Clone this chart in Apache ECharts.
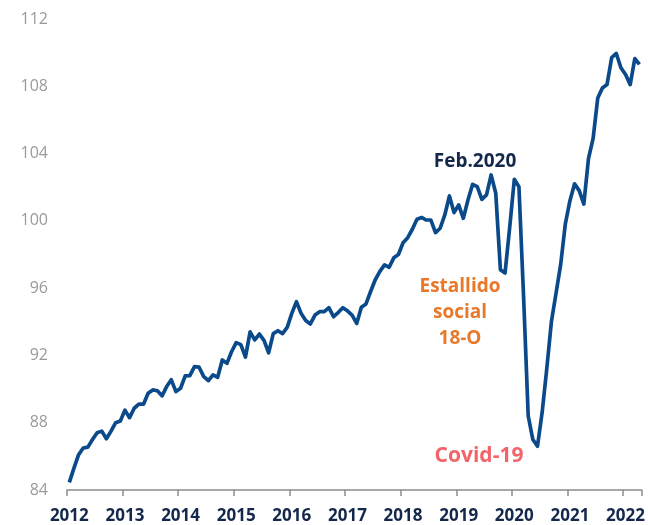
<!DOCTYPE html>
<html>
<head>
<meta charset="utf-8">
<script src="https://cdn.jsdelivr.net/npm/echarts@6/dist/echarts.min.js"></script>
<style>
  html, body { margin: 0; padding: 0; background: #fff; }
  #chart { width: 648px; height: 525px; }
</style>
</head>
<body>
<div id="chart"></div>
<script>
// months Jan 2012 .. Apr 2022
const months = [];
for (let y = 2012; y <= 2022; y++) {
  for (let m = 1; m <= 12; m++) {
    if (y === 2022 && m > 4) break;
    months.push(y + '-' + String(m).padStart(2, '0'));
  }
}

// index values
const v2012 = [84.45, 85.3, 86.1, 86.5, 86.55, 87.0, 87.4, 87.5, 87.05, 87.5, 88.0, 88.1];
const v2013 = [88.75, 88.3, 88.86, 89.1, 89.1, 89.75, 89.95, 89.9, 89.6, 90.15, 90.55, 89.85];
const v2014 = [90.05, 90.78, 90.8, 91.33, 91.3, 90.74, 90.5, 90.84, 90.7, 91.73, 91.53, 92.22];
const v2015 = [92.76, 92.64, 91.9, 93.4, 92.92, 93.27, 92.9, 92.16, 93.3, 93.47, 93.3, 93.67];
const v2016 = [94.5, 95.2, 94.5, 94.07, 93.87, 94.4, 94.6, 94.6, 94.84, 94.3, 94.55, 94.84];
const v2017 = [94.65, 94.4, 93.9, 94.86, 95.06, 95.8, 96.5, 97.0, 97.38, 97.24, 97.8, 98.0];
const v2018 = [98.7, 99.0, 99.5, 100.1, 100.2, 100.05, 100.05, 99.3, 99.56, 100.35, 101.48, 100.49];
const v2019 = [100.95, 100.15, 101.24, 102.17, 102.03, 101.28, 101.54, 102.73, 101.64, 97.1, 96.9, 99.6];
const v2020 = [102.47, 102.03, 95.5, 88.4, 87.0, 86.6, 88.6, 91.2, 94.0, 95.7, 97.4, 99.8];
const v2021 = [101.2, 102.2, 101.8, 101.0, 103.7, 104.9, 107.3, 107.9, 108.1, 109.7, 109.95, 109.1];
const v2022 = [108.7, 108.1, 109.65, 109.3];

const values = [].concat(v2012, v2013, v2014, v2015, v2016, v2017, v2018, v2019, v2020, v2021, v2022);

const yTicks = { min: 84, max: 112, step: 4 };

const navy = '#14284b';
const lineColor = '#0b4a8a';
const font = '"Open Sans"';

const chart = echarts.init(document.getElementById('chart'));
chart.setOption({
  animation: false,
  grid: { left: 67, right: 6, top: 19, bottom: 35, containLabel: false },
  xAxis: {
    type: 'category',
    data: months,
    boundaryGap: true,
    axisLine: { show: true, lineStyle: { color: '#8c8c8c', width: 1.5 } },
    axisTick: {
      show: true,
      length: 6,
      interval: (i) => i % 12 === 0,
      lineStyle: { color: '#8c8c8c', width: 1.5 }
    },
    axisLabel: {
      interval: (i) => i % 12 === 0,
      formatter: (v) => v.slice(0, 4),
      color: navy,
      fontFamily: font,
      fontWeight: 'bold',
      fontSize: 17,
      margin: 18
    },
    splitLine: { show: false }
  },
  yAxis: {
    type: 'value',
    min: yTicks.min,
    max: yTicks.max,
    interval: yTicks.step,
    axisLine: { show: false },
    axisTick: { show: false },
    splitLine: { show: false },
    axisLabel: {
      color: '#9a9a9a',
      fontFamily: font,
      fontSize: 16,
      margin: 19
    }
  },
  series: [{
    type: 'line',
    data: values,
    symbol: 'none',
    lineStyle: { color: lineColor, width: 3.7, join: 'round' }
  }],
  graphic: [
    {
      type: 'text', x: 475, y: 162,
      style: {
        text: 'Feb.2020', fill: navy, font: 'bold 19px ' + font,
        align: 'center', verticalAlign: 'middle'
      }
    },
    {
      type: 'text', x: 460, y: 274,
      style: {
        text: 'Estallido\nsocial\n18-O', fill: '#e8782a',
        font: 'bold 19px ' + font, lineHeight: 26,
        align: 'center', verticalAlign: 'top'
      }
    },
    {
      type: 'text', x: 479, y: 456,
      style: {
        text: 'Covid-19', fill: '#f2646a', font: 'bold 21px ' + font,
        align: 'center', verticalAlign: 'middle'
      }
    }
  ]
});
</script>
</body>
</html>
